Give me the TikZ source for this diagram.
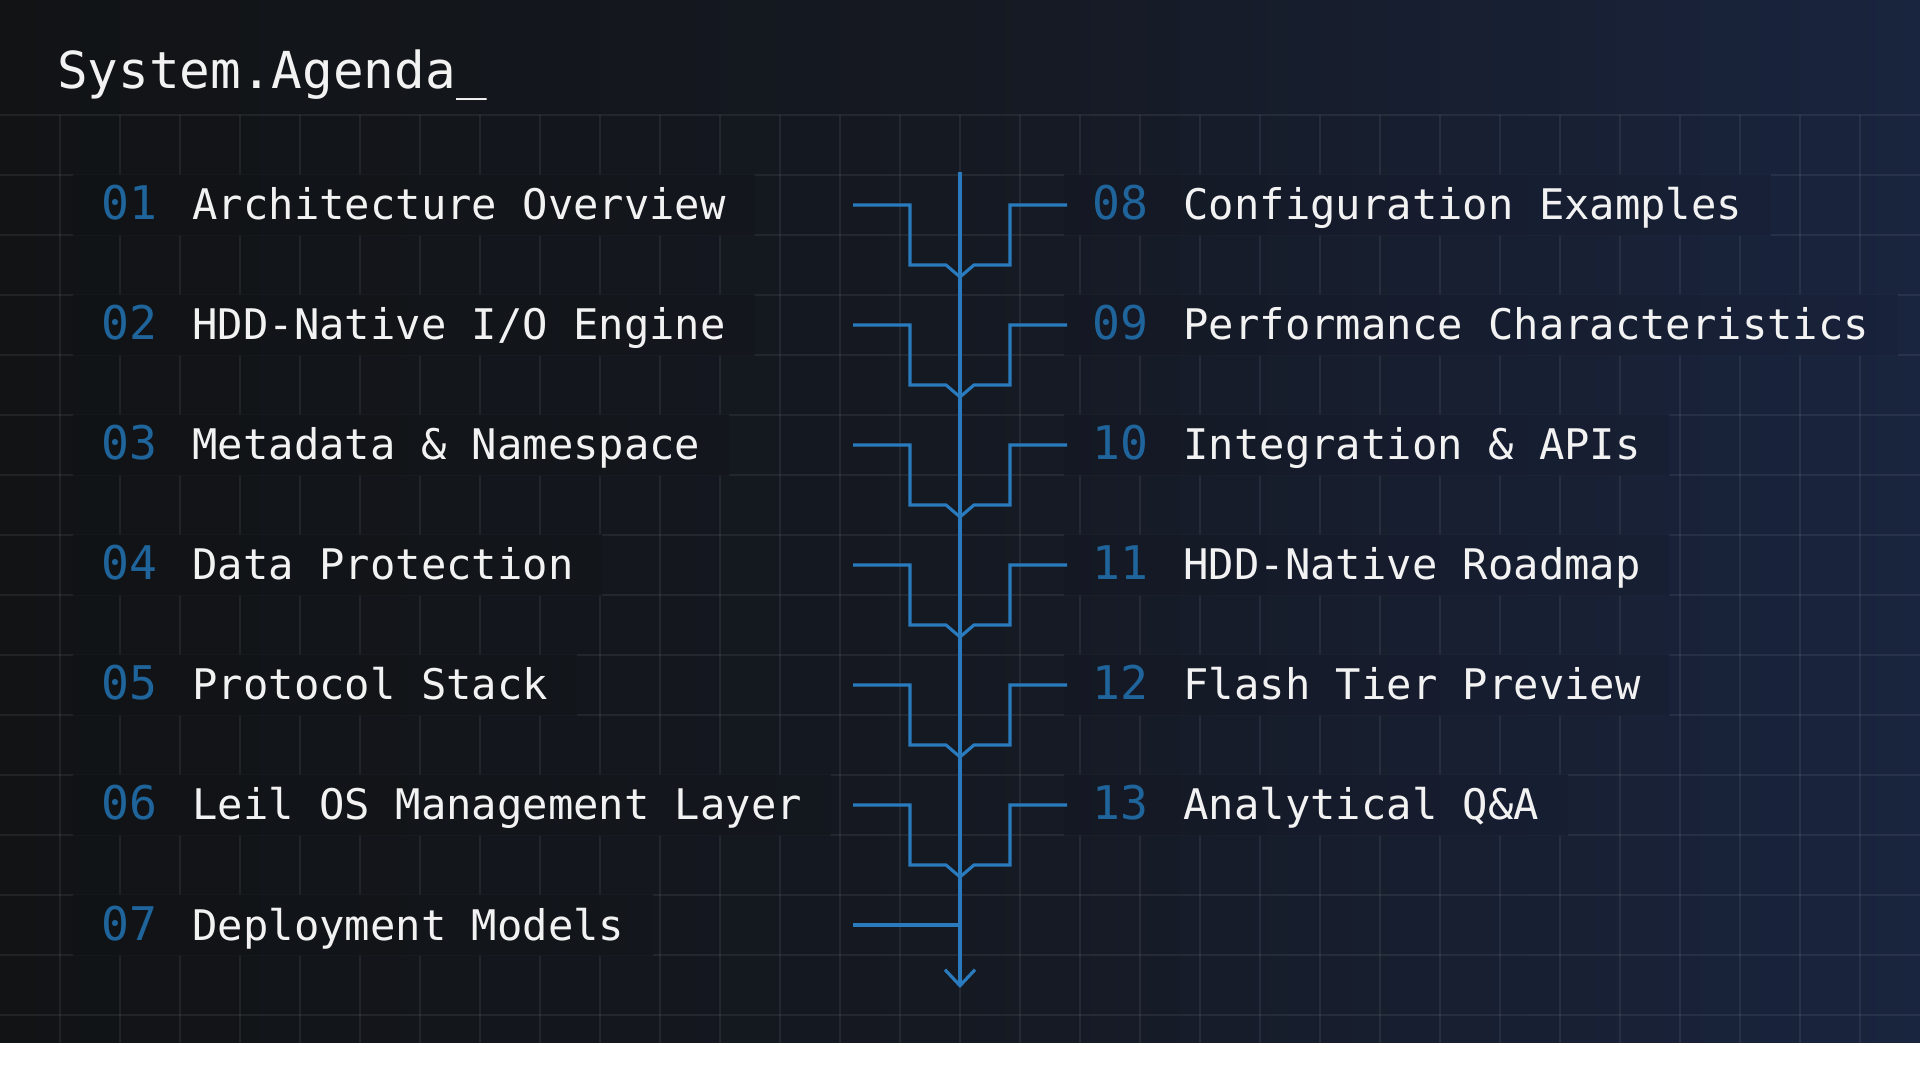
\documentclass[tikz,border=0pt]{standalone}
\usepackage{fontspec}
\setmonofont{DejaVu Sans Mono}
\usetikzlibrary{arrows.meta,positioning}

\definecolor{bgleft}{HTML}{111315}
\definecolor{bgmid}{HTML}{151922}
\definecolor{bgright}{HTML}{19243E}
\definecolor{wire}{HTML}{2A7BBD}
\definecolor{numblue}{HTML}{1F659C}
\definecolor{txt}{HTML}{F2F2F2}

\pgfdeclarelayer{back}
\pgfdeclarelayer{band}
\pgfsetlayers{back,band,main}

\newcommand{\agendanum}[1]{{\color{numblue}\fontsize{13.2}{15}\selectfont #1}\hspace{0.35cm}}

\tikzset{
  item/.style={anchor=base west, inner xsep=0.28cm, inner ysep=0.15cm,
    text height=0.30cm, text depth=0cm, text=txt,
    font=\ttfamily\fontsize{12}{14}\selectfont},
  wire/.style={draw=wire, line width=0.9pt},
  gridline/.style={white, opacity=0.065, line width=0.5pt}
}

\begin{document}
\begin{tikzpicture}
    \useasboundingbox (0,0) rectangle (19.2,-10.72);
    \fill[white] (0,-10.43) rectangle (19.2,-10.72);

    % backdrop and grid
    \begin{pgfonlayer}{back}
      \shade[left color=bgleft, right color=bgright, middle color=bgmid] (0,0) rectangle (19.2,-10.43);
      \foreach \k in {0,...,15}
        \draw[gridline] (0,{-1.15-0.6*\k}) -- (19.2,{-1.15-0.6*\k});
      \foreach \k in {1,...,31}
        \draw[gridline] ({0.6*\k},-1.15) -- ({0.6*\k},-10.43);
    \end{pgfonlayer}

    \node[anchor=base west, inner sep=0, text=txt, font=\ttfamily\fontsize{14.5}{17}\selectfont] (title) at (0.565,-0.89) {System.Agenda\_};

    % left column
    \node[item] (i1) at (0.73,-2.20) {\agendanum{01}Architecture Overview};
    \node[item] (i2) at (0.73,-3.40) {\agendanum{02}HDD-Native I/O Engine};
    \node[item] (i3) at (0.73,-4.60) {\agendanum{03}Metadata \& Namespace};
    \node[item] (i4) at (0.73,-5.80) {\agendanum{04}Data Protection};
    \node[item] (i5) at (0.73,-7.00) {\agendanum{05}Protocol Stack};
    \node[item] (i6) at (0.73,-8.20) {\agendanum{06}Leil OS Management Layer};
    \node[item] (i7) at (0.73,-9.40) {\agendanum{07}Deployment Models};

    % right column
    \node[item] (i8) at (10.64,-2.20) {\agendanum{08}Configuration Examples};
    \node[item] (i9) at (10.64,-3.40) {\agendanum{09}Performance Characteristics};
    \node[item] (i10) at (10.64,-4.60) {\agendanum{10}Integration \& APIs};
    \node[item] (i11) at (10.64,-5.80) {\agendanum{11}HDD-Native Roadmap};
    \node[item] (i12) at (10.64,-7.00) {\agendanum{12}Flash Tier Preview};
    \node[item] (i13) at (10.64,-8.20) {\agendanum{13}Analytical Q\&A};

    % rows hide the grid
    \begin{pgfonlayer}{band}
      \begin{scope}
        \clip \foreach \n in {1,...,13} {(i\n.south west) rectangle (i\n.north east)};
        \shade[left color=bgleft, right color=bgright, middle color=bgmid] (0,0) rectangle (19.2,-10.43);
        \fill[black, opacity=0.04] (0,0) rectangle (19.2,-10.43);
      \end{scope}
    \end{pgfonlayer}

    % spine
    \coordinate (spinetop) at (9.60,-1.72);
    \coordinate (spineend) at (9.60,-9.88);
    \draw[wire, -{Straight Barb[length=0.16cm,width=0.30cm]}] (spinetop) -- (spineend);

    % branches
    \foreach \i/\y in {1/2.05,2/3.25,3/4.45,4/5.65,5/6.85,6/8.05} {
      \coordinate (l\i) at (8.53,-\y);
      \coordinate (r\i) at (10.67,-\y);
      \coordinate (m\i) at (9.60,{-\y-0.72});
      \draw[wire] (l\i) -- ++(0.57,0) -- ++(0,-0.60) -- ++(0.36,0) -- (m\i);
      \draw[wire] (r\i) -- ++(-0.57,0) -- ++(0,-0.60) -- ++(-0.36,0) -- (m\i);
    }
    \coordinate (l7) at (8.53,-9.25);
    \draw[wire] (l7) -- (l7 -| spinetop);
\end{tikzpicture}
\end{document}
